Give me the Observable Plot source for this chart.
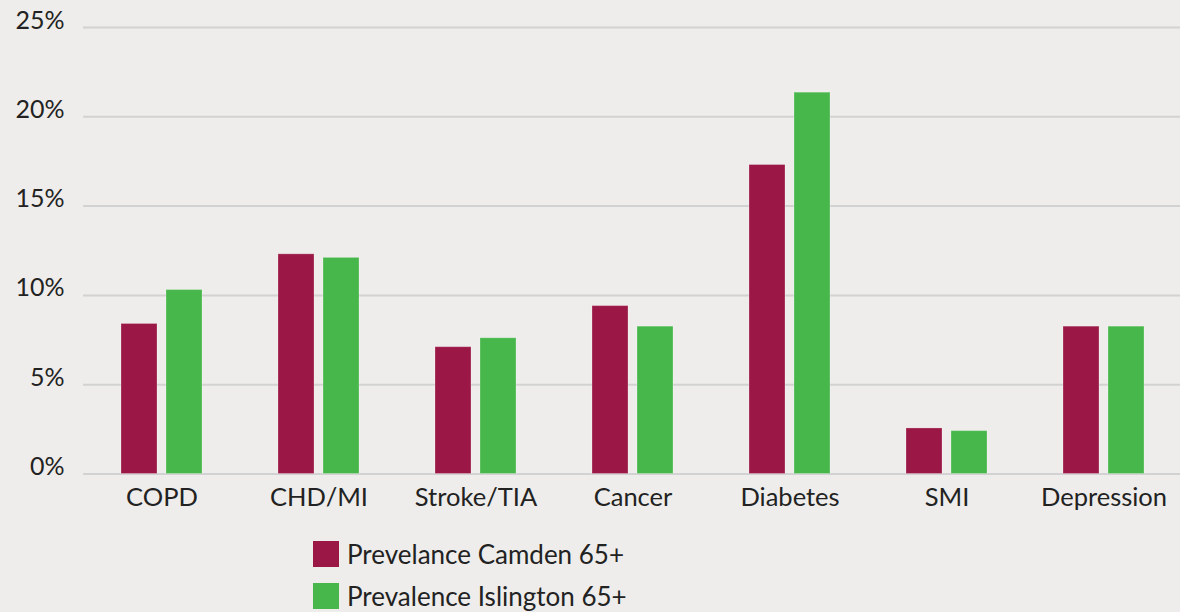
<!DOCTYPE html>
<html>
<head>
<meta charset="utf-8">
<script src="https://cdn.jsdelivr.net/npm/d3@7"></script>
<script src="https://cdn.jsdelivr.net/npm/@observablehq/plot@0.6"></script>
<style>
  html, body { margin: 0; padding: 0; background: #eeedeb; }
  body { width: 1180px; height: 612px; position: relative; overflow: hidden; font-family: Lato, "Open Sans", sans-serif; color: #222; }
  #chart { position: absolute; left: 0; top: 0; }
  #legend { position: absolute; left: 313px; top: 533px; }
  .item { display: flex; align-items: center; height: 42px; font-size: 26px; }
  .sw { width: 26px; height: 26px; margin-right: 8px; }
</style>
</head>
<body>
<div id="chart"></div>
<div id="legend"></div>
<script>
const categories = ["COPD", "CHD/MI", "Stroke/TIA", "Cancer", "Diabetes", "SMI", "Depression"];
const seriesNames = ["Prevelance Camden 65+", "Prevalence Islington 65+"];
const camden = [8.4, 12.3, 7.1, 9.4, 17.3, 2.55, 8.25];
const islington = [10.3, 12.1, 7.6, 8.25, 21.35, 2.4, 8.25];
const yTicks = [0, 5, 10, 15, 20, 25];
const colors = ["#9b1746", "#47b74b"];

const data = [];
categories.forEach((c, i) => {
  data.push({category: c, series: seriesNames[0], value: camden[i]});
  data.push({category: c, series: seriesNames[1], value: islington[i]});
});

const chart = Plot.plot({
  width: 1180,
  height: 520,
  marginLeft: 81,
  marginRight: -4,
  marginTop: 27,
  marginBottom: 46.5,
  style: {background: "transparent", fontFamily: "Lato, 'Open Sans', sans-serif", color: "#222", overflow: "visible"},
  fx: {domain: categories, padding: 0, label: null},
  x: {domain: seriesNames, axis: null, paddingInner: 0.2, paddingOuter: 0.844},
  y: {domain: [0, 25], label: null},
  color: {domain: seriesNames, range: colors},
  marks: [
    Plot.gridY(yTicks, {stroke: "#d2d2d2", strokeWidth: 2, strokeOpacity: 1}),
    Plot.axisY(yTicks, {tickSize: 0, tickPadding: 19, tickFormat: d => d + "%", fontSize: 25, dy: -7, label: null}),
    Plot.axisFx({anchor: "bottom", tickSize: 0, tickPadding: 14, fontSize: 25.5, label: null}),
    Plot.barY(data, {fx: "category", x: "series", y: "value", fill: "series", stroke: "#ffffff", strokeOpacity: 0.25, strokeWidth: 1})
  ]
});
document.getElementById("chart").appendChild(chart);

const legend = document.getElementById("legend");
seriesNames.forEach((s, i) => {
  const item = document.createElement("div");
  item.className = "item";
  const sw = document.createElement("div");
  sw.className = "sw";
  sw.style.background = colors[i];
  const t = document.createElement("span");
  t.textContent = s;
  item.appendChild(sw);
  item.appendChild(t);
  legend.appendChild(item);
});
</script>
</body>
</html>
